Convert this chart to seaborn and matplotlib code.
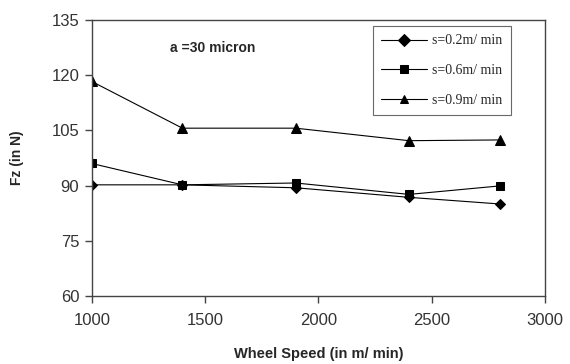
import matplotlib
matplotlib.use("Agg")
import matplotlib.pyplot as plt
import seaborn as sns
import pandas as pd

speeds = [1000, 1400, 1900, 2400, 2800]
fz_s02 = [90.2, 90.2, 89.4, 86.8, 85.0]
fz_s06 = [96.0, 90.2, 90.7, 87.6, 89.9]
fz_s09 = [118.3, 105.6, 105.6, 102.2, 102.4]
labels = ["s=0.2m/ min", "s=0.6m/ min", "s=0.9m/ min"]
yticks = [60, 75, 90, 105, 120, 135]
xticks = [1000, 1500, 2000, 2500, 3000]

rows = []
for lab, vals in zip(labels, [fz_s02, fz_s06, fz_s09]):
    for x, v in zip(speeds, vals):
        rows.append({"speed": x, "fz": v, "series": lab})
df = pd.DataFrame(rows)

sns.set_style("ticks")
plt.rcParams["font.family"] = ["Liberation Sans", "DejaVu Sans"]

fig = plt.figure(figsize=(5.7, 3.64), dpi=100)
ax = fig.add_axes([0.161, 0.187, 0.795, 0.758])

sns.lineplot(data=df, x="speed", y="fz", hue="series", style="series",
             markers={labels[0]: "D", labels[1]: "s", labels[2]: "^"},
             dashes=False, palette=["black"] * 3, linewidth=0.8,
             markersize=6, markeredgecolor="black", ax=ax)
for line, ms in zip(ax.get_lines()[:3], [5, 6, 7]):
    line.set_markersize(ms)

ax.set_xlim(1000, 3000)
ax.set_ylim(60, 135)
ax.set_xticks(xticks)
ax.set_yticks(yticks)
ax.tick_params(axis="both", which="major", labelsize=12, labelcolor="#333333",
               color="#444444", length=5, direction="out", width=1.0,
               bottom=True, left=True, top=False, right=False)
ax.tick_params(axis="x", pad=7)
ax.tick_params(axis="y", pad=4)
for s in ax.spines.values():
    s.set_visible(True)
    s.set_color("#444444")
    s.set_linewidth(1.0)

ax.set_xlabel("Wheel Speed (in m/ min)", fontsize=10.5, fontweight="bold", labelpad=14)
ax.set_ylabel("Fz (in N)", fontsize=10, fontweight="bold", labelpad=20)

ax.text(0.172, 0.90, "a =30 micron", transform=ax.transAxes, fontsize=10,
        fontweight="bold", ha="left", va="center")

leg = ax.legend(loc="upper right", bbox_to_anchor=(0.925, 0.978),
                prop={"family": "Liberation Serif", "size": 10},
                frameon=True, fancybox=False, edgecolor="#444444",
                borderpad=0.6, labelspacing=1.2, handlelength=3.3,
                handletextpad=0.4, borderaxespad=0)
leg.get_frame().set_linewidth(0.8)

fig.savefig("out.png", dpi=100)
